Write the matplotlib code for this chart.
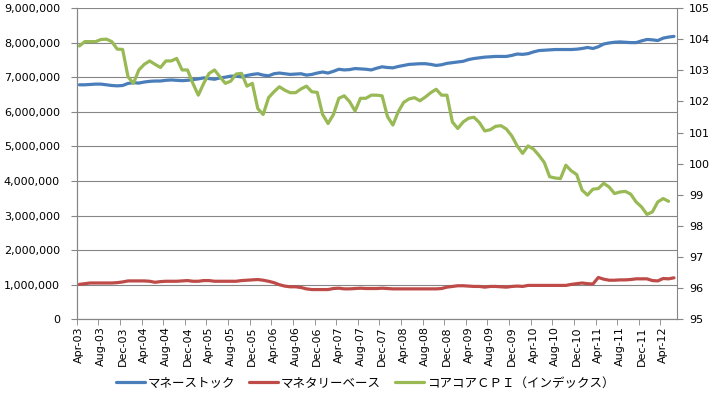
import numpy as np
import matplotlib.pyplot as plt
from matplotlib.font_manager import FontProperties
from matplotlib.ticker import FuncFormatter, MultipleLocator, FixedLocator

# monthly, Apr-03 .. Jun-12 (values in millions)
money_stock = [
    6.78, 6.78, 6.79, 6.80, 6.80, 6.78, 6.76, 6.75, 6.76, 6.82,
    6.84, 6.83, 6.86, 6.88, 6.89, 6.89, 6.91, 6.92, 6.91, 6.90,
    6.91, 6.93, 6.95, 6.98, 6.96, 6.94, 6.98, 7.00, 7.03, 7.03,
    7.01, 7.05, 7.08, 7.10, 7.06, 7.04, 7.10, 7.12, 7.10, 7.08,
    7.09, 7.10, 7.06, 7.08, 7.12, 7.15, 7.12, 7.17, 7.23, 7.21,
    7.22, 7.25, 7.24, 7.23, 7.21, 7.26, 7.30, 7.28, 7.27, 7.31,
    7.34, 7.37, 7.38, 7.39, 7.39, 7.37, 7.34, 7.36, 7.40, 7.42,
    7.44, 7.46, 7.51, 7.54, 7.56, 7.58, 7.59, 7.60, 7.60, 7.60,
    7.63, 7.67, 7.66, 7.68, 7.73, 7.77, 7.78, 7.79, 7.80, 7.80,
    7.80, 7.80, 7.81, 7.83, 7.86, 7.83, 7.88, 7.96, 7.99, 8.01,
    8.02, 8.01, 8.00, 8.00, 8.05, 8.09, 8.08, 8.06, 8.13, 8.16, 8.18,
]
monetary_base = [
    1.01, 1.03, 1.05, 1.05, 1.05, 1.05, 1.05, 1.06, 1.08, 1.11,
    1.11, 1.11, 1.11, 1.10, 1.07, 1.09, 1.10, 1.10, 1.10, 1.11,
    1.12, 1.10, 1.10, 1.12, 1.12, 1.10, 1.10, 1.10, 1.10, 1.10,
    1.12, 1.13, 1.14, 1.15, 1.13, 1.10, 1.06, 1.00, 0.96, 0.94,
    0.94, 0.92, 0.88, 0.86, 0.86, 0.86, 0.86, 0.89, 0.90, 0.88,
    0.88, 0.89, 0.90, 0.89, 0.89, 0.89, 0.90, 0.89, 0.88, 0.88,
    0.88, 0.88, 0.88, 0.88, 0.88, 0.88, 0.88, 0.89, 0.93, 0.95,
    0.97, 0.97, 0.96, 0.95, 0.95, 0.93, 0.95, 0.95, 0.94, 0.93,
    0.95, 0.96, 0.95, 0.98, 0.98, 0.98, 0.98, 0.98, 0.98, 0.98,
    0.98, 1.01, 1.03, 1.05, 1.03, 1.02, 1.21, 1.16, 1.13, 1.13,
    1.14, 1.14, 1.15, 1.17, 1.17, 1.17, 1.12, 1.11, 1.18, 1.17, 1.20,
]
# Apr-03 .. May-12
core_core_cpi = [
    103.78, 103.92, 103.92, 103.92, 103.99, 104.00, 103.92, 103.68, 103.67, 102.79,
    102.58, 103.01, 103.19, 103.30, 103.19, 103.09, 103.30, 103.30, 103.38, 103.01,
    103.01, 102.58, 102.20, 102.58, 102.90, 103.01, 102.79, 102.58, 102.65, 102.88,
    102.90, 102.49, 102.58, 101.77, 101.58, 102.12, 102.31, 102.47, 102.36, 102.28,
    102.28, 102.40, 102.49, 102.31, 102.29, 101.58, 101.29, 101.58, 102.10, 102.18,
    101.99, 101.69, 102.10, 102.10, 102.20, 102.20, 102.18, 101.51, 101.24, 101.67,
    101.97, 102.08, 102.12, 102.02, 102.14, 102.28, 102.39, 102.20, 102.20, 101.34,
    101.13, 101.34, 101.46, 101.49, 101.32, 101.05, 101.09, 101.20, 101.22, 101.11,
    100.89, 100.57, 100.33, 100.57, 100.47, 100.27, 100.04, 99.58, 99.54, 99.52,
    99.95, 99.77, 99.65, 99.15, 98.99, 99.18, 99.20, 99.37, 99.25, 99.04,
    99.09, 99.11, 99.02, 98.77, 98.61, 98.37, 98.45, 98.77, 98.88, 98.79,
]
tick_labels = [
    'Apr-03', 'Aug-03', 'Dec-03', 'Apr-04', 'Aug-04', 'Dec-04', 'Apr-05',
    'Aug-05', 'Dec-05', 'Apr-06', 'Aug-06', 'Dec-06', 'Apr-07', 'Aug-07',
    'Dec-07', 'Apr-08', 'Aug-08', 'Dec-08', 'Apr-09', 'Aug-09', 'Dec-09',
    'Apr-10', 'Aug-10', 'Dec-10', 'Apr-11', 'Aug-11', 'Dec-11', 'Apr-12',
]
series_names = ['マネーストック', 'マネタリーベース', 'コアコアＣＰＩ（インデックス）']

grey = '#868686'
colors = ['#4A7EBB', '#BE4B48', '#98B954']

fig = plt.figure(figsize=(7.12, 3.97), dpi=100)
ax = fig.add_axes([0.1077, 0.1957, 0.8427, 0.7841])
ax2 = ax.twinx()

x = np.arange(len(money_stock))
x_cpi = np.arange(len(core_core_cpi))

lines = []
lines += ax.plot(x, np.array(money_stock) * 1e6, color=colors[0], lw=2.3,
                 solid_joinstyle='round', solid_capstyle='round')
lines += ax.plot(x, np.array(monetary_base) * 1e6, color=colors[1], lw=2.3,
                 solid_joinstyle='round', solid_capstyle='round')
lines += ax2.plot(x_cpi, core_core_cpi, color=colors[2], lw=2.3,
                  solid_joinstyle='round', solid_capstyle='round')

# left axis
ax.set_ylim(0, 9e6)
ax.yaxis.set_major_locator(MultipleLocator(1e6))
ax.yaxis.set_major_formatter(FuncFormatter(lambda v, p: f'{v:,.0f}'))
ax.grid(axis='y', color=grey, lw=0.8)
ax.set_axisbelow(True)

# right axis
ax2.set_ylim(95, 105)
ax2.yaxis.set_major_locator(MultipleLocator(1))

# category axis, labels every 4 months
ax.set_xlim(-0.5, len(money_stock) - 0.5)
ax.xaxis.set_major_locator(FixedLocator(np.arange(0, len(money_stock), 4)))
ax.set_xticklabels(tick_labels, rotation=90)
ax.xaxis.set_minor_locator(FixedLocator(np.arange(-0.5, len(money_stock) - 1, 4)))
ax.tick_params(axis='x', which='major', length=0, pad=5, labelsize=8)
ax.tick_params(axis='x', which='minor', length=4, color=grey, direction='out')
ax.tick_params(axis='y', length=4, color=grey, pad=8, labelsize=8)
ax2.tick_params(axis='y', length=4, color=grey, pad=5, labelsize=8)

for a in (ax, ax2):
    a.spines['top'].set_visible(False)
    for side in ('left', 'right', 'bottom'):
        a.spines[side].set_color(grey)
ax.spines['right'].set_visible(False)

fig.legend(lines, series_names, loc='center', bbox_to_anchor=(0.513, 1 - 383 / 397),
           ncol=3, frameon=False, prop=FontProperties(family='Noto Sans CJK JP', size=9),
           handlelength=2.3, handletextpad=0.25, columnspacing=1.1)

fig.savefig('out.png', dpi=100)
